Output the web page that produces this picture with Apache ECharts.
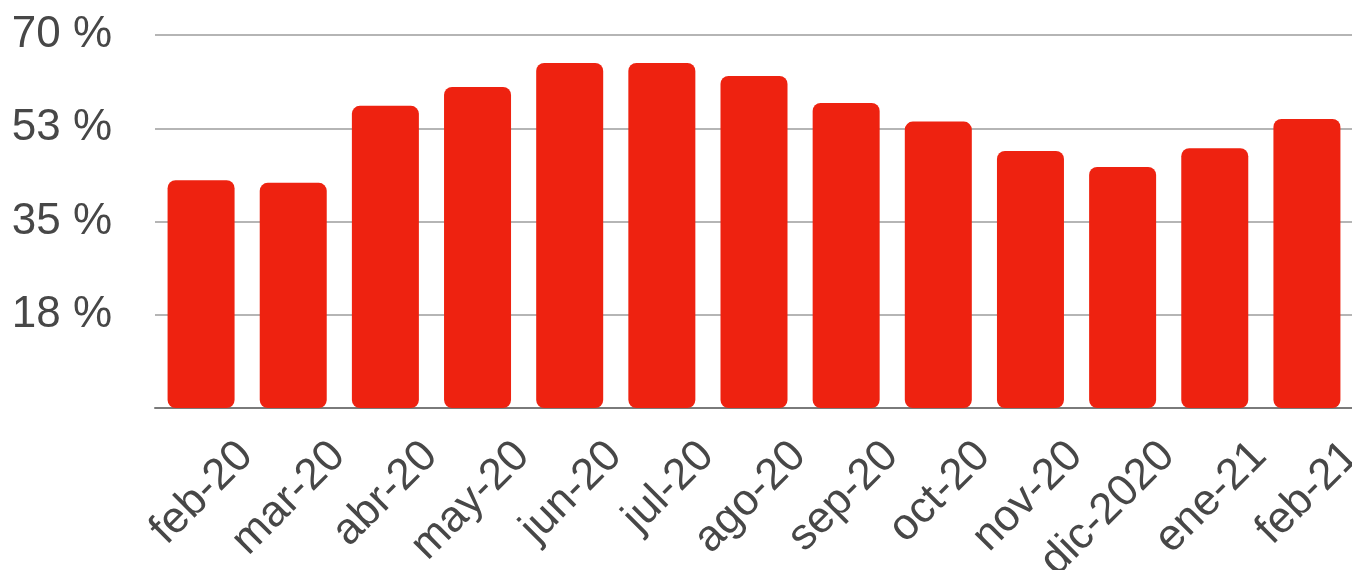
<!DOCTYPE html>
<html>
<head>
<meta charset="utf-8">
<script src="https://cdn.jsdelivr.net/npm/echarts@6/dist/echarts.min.js"></script>
<style>
html,body{margin:0;padding:0;background:#fff;}
#chart{width:1352px;height:570px;}
</style>
</head>
<body>
<div id="chart"></div>
<script>
const categories = ['feb-20','mar-20','abr-20','may-20','jun-20','jul-20','ago-20','sep-20','oct-20','nov-20','dic-2020','ene-21','feb-21'];
const values = [42.75, 42.25, 56.7, 60.25, 64.75, 64.75, 62.3, 57.25, 53.75, 48.25, 45.25, 48.75, 54.25];
const yTicks = [0, 17.5, 35, 52.5, 70];
const yTickLabels = ['', '18 %', '35 %', '53 %', '70 %'];

const chart = echarts.init(document.getElementById('chart'), null, {renderer:'canvas'});
const font = '"Liberation Sans", Arial, Helvetica, sans-serif';
chart.setOption({
  animation: false,
  backgroundColor: '#ffffff',
  grid: [
    {left: 155, right: -1, top: 35, bottom: 162, containLabel: false, outerBoundsMode: 'none'},
    {left: 200, right: -46, top: 35, bottom: 162, containLabel: false, outerBoundsMode: 'none'}
  ],
  xAxis: [
    {
      type: 'category', gridIndex: 0, data: categories,
      axisLine: {show: true, lineStyle: {color: '#7a7a7a', width: 2}},
      axisTick: {show: false},
      axisLabel: {show: false}
    },
    {
      type: 'category', gridIndex: 1, data: categories,
      axisLine: {show: false}, axisTick: {show: false},
      axisLabel: {show: true, interval: 0, rotate: 45, margin: 41, fontSize: 44, color: '#474747', fontFamily: font}
    }
  ],
  yAxis: [
    {
      type: 'value', gridIndex: 0, min: yTicks[0], max: yTicks[yTicks.length-1], interval: yTicks[1]-yTicks[0],
      axisLine: {show: false}, axisTick: {show: false},
      splitLine: {show: true, lineStyle: {color: '#b5b5b5', width: 2}},
      axisLabel: {
        margin: 43, fontSize: 44, color: '#474747', fontFamily: font,
        formatter: function (v) { const i = yTicks.indexOf(v); return i >= 0 ? yTickLabels[i] : ''; }
      }
    },
    {
      type: 'value', gridIndex: 1, min: 0, max: 70, show: false
    }
  ],
  series: [{
    type: 'bar', xAxisIndex: 0, yAxisIndex: 0, data: values,
    barWidth: 67,
    itemStyle: {color: '#EE2210', borderRadius: 8}
  }]
});
</script>
</body>
</html>
